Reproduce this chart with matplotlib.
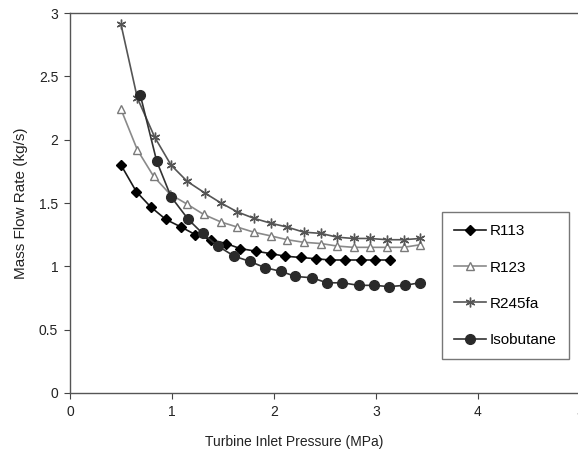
import matplotlib.pyplot as plt

plt.rcParams['font.family'] = ['Liberation Sans', 'DejaVu Sans']

# R113
p_r113 = [0.50, 0.65, 0.79, 0.94, 1.09, 1.23, 1.38, 1.53, 1.67, 1.82,
          1.97, 2.11, 2.26, 2.41, 2.55, 2.70, 2.85, 2.99, 3.14]
m_r113 = [1.80, 1.59, 1.47, 1.37, 1.31, 1.25, 1.21, 1.18, 1.14, 1.12,
          1.10, 1.08, 1.07, 1.06, 1.05, 1.05, 1.05, 1.05, 1.05]

# R123
p_r123 = [0.50, 0.66, 0.82, 0.98, 1.15, 1.31, 1.48, 1.64, 1.80, 1.97,
          2.13, 2.29, 2.46, 2.62, 2.78, 2.94, 3.11, 3.27, 3.43]
m_r123 = [2.24, 1.92, 1.71, 1.57, 1.49, 1.41, 1.35, 1.31, 1.27, 1.24,
          1.21, 1.19, 1.18, 1.16, 1.15, 1.15, 1.15, 1.15, 1.17]

# R245fa
p_r245 = [0.50, 0.66, 0.83, 0.99, 1.15, 1.32, 1.48, 1.64, 1.80, 1.97,
          2.13, 2.29, 2.46, 2.62, 2.78, 2.94, 3.11, 3.27, 3.43]
m_r245 = [2.91, 2.33, 2.02, 1.80, 1.67, 1.58, 1.50, 1.43, 1.38, 1.34,
          1.31, 1.27, 1.26, 1.23, 1.22, 1.22, 1.21, 1.21, 1.22]

# Isobutane
p_iso = [0.69, 0.85, 0.99, 1.16, 1.30, 1.45, 1.61, 1.76, 1.91, 2.07,
         2.21, 2.37, 2.52, 2.67, 2.83, 2.98, 3.13, 3.28, 3.43]
m_iso = [2.35, 1.83, 1.55, 1.37, 1.26, 1.16, 1.08, 1.04, 0.99, 0.96,
         0.92, 0.91, 0.87, 0.87, 0.85, 0.85, 0.84, 0.85, 0.87]

fig = plt.figure(figsize=(5.78, 4.54), dpi=100)
# plot area runs past the right edge of the picture, like the original
ax = fig.add_axes([70/578, 61/454, 510/578, 380/454])

ax.plot(p_r113, m_r113, color='#1a1a1a', lw=1.2, marker='D', ms=5.5,
        mfc='black', mec='black', label='R113')
ax.plot(p_r123, m_r123, color='#8a8a8a', lw=1.2, marker='^', ms=6,
        mfc='white', mec='#7a7a7a', mew=1.0, label='R123')
ax.plot(p_r245, m_r245, color='#555555', lw=1.2, marker=(6, 2, 0), ms=7,
        mec='#555555', mew=1.0, label='R245fa')
ax.plot(p_iso, m_iso, color='#333333', lw=1.2, marker='o', ms=7,
        mfc='#2a2a2a', mec='#2a2a2a', label='Isobutane')

ax.set_xlim(0, 5)
ax.set_ylim(0, 3)
ax.set_xticks([0, 1, 2, 3, 4, 5])
ax.set_yticks([0, 0.5, 1, 1.5, 2, 2.5, 3])
ax.set_yticklabels(['0', '0.5', '1', '1.5', '2', '2.5', '3'])
ax.tick_params(direction='out', length=4, width=0.8, colors='#444444',
               labelsize=10, labelcolor='#222222', pad=4.5)
for s in ax.spines.values():
    s.set_color('#555555')
    s.set_linewidth(1.0)

ax.set_xlabel('Turbine Inlet Pressure (MPa)', fontsize=10, color='#222222',
              labelpad=11)
ax.xaxis.set_label_coords(224/510, -0.11)
ax.set_ylabel('Mass Flow Rate (kg/s)', fontsize=11, color='#222222',
              labelpad=8)

leg = fig.legend(loc='upper left', bbox_to_anchor=(442/578, 1 - 212/454),
                 fontsize=11, frameon=True, fancybox=False, labelspacing=1.46,
                 handlelength=2.1, handletextpad=0.25, borderpad=0.8,
                 borderaxespad=0)
leg.get_frame().set_edgecolor('#555555')
leg.get_frame().set_linewidth(1.0)

fig.savefig('out.png', dpi=100)
